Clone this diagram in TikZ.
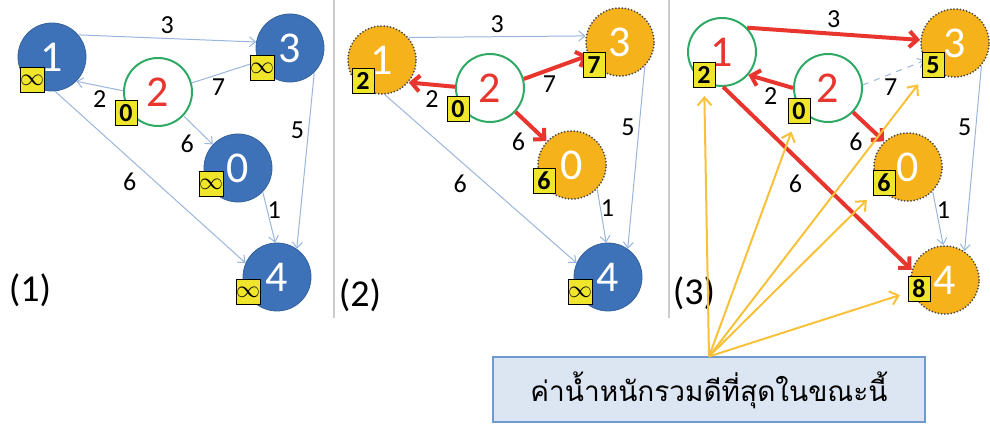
\documentclass[tikz,border=0pt]{standalone}
\usepackage{fontspec}
\setmainfont{Carlito}
\newfontfamily\thaifont[Script=Thai]{Loma}
\usetikzlibrary{arrows.meta, positioning}

\definecolor{nodeblue}{HTML}{3D72B8}
\definecolor{nodegold}{HTML}{F6B21A}
\definecolor{ringgreen}{HTML}{2EAA64}
\definecolor{hotred}{HTML}{E8362E}
\definecolor{edgeblue}{HTML}{9AB6DC}
\definecolor{costyellow}{HTML}{EFE52A}
\definecolor{hintgold}{HTML}{F7C23A}
\definecolor{notefill}{HTML}{DCE6F2}
\definecolor{noteline}{HTML}{6E9AD0}

\tikzstyle{vertex} = [circle, minimum size=34pt, inner sep=0pt, font=\fontsize{22}{22}\selectfont]
\tikzstyle{blue_node} = [vertex, fill=nodeblue, draw=nodeblue!85!black, text=white]
\tikzstyle{gold_node} = [vertex, fill=nodegold, draw=black!70, line width=1pt, dash pattern=on 0pt off 1.6pt, line cap=round, text=white]
\tikzstyle{open_node} = [vertex, fill=white, draw=ringgreen, line width=1pt, text=hotred]
\tikzstyle{cost_box} = [rectangle, draw=black, line width=0.5pt, fill=costyellow, minimum width=11pt, minimum height=12.5pt, inner sep=0pt, font=\fontsize{13}{13}\selectfont\bfseries]
\tikzstyle{thin_arrow} = [draw=edgeblue, line width=0.5pt, -{Straight Barb[length=3pt, width=5pt]}]
\tikzstyle{hot_arrow} = [draw=hotred, line width=2pt, -{Straight Barb[length=4pt, width=8pt]}]
\tikzstyle{hint_arrow} = [draw=hintgold, line width=1pt, -{Straight Barb[length=4pt, width=7pt]}, shorten >=4pt]
\tikzstyle{weight_label} = [font=\fontsize{13}{13}\selectfont, text=black, inner sep=2pt]
\tikzstyle{step_label} = [font=\fontsize{19}{19}\selectfont]
\tikzstyle{sep_line} = [draw=black!20, line width=1pt]
\tikzstyle{note_box} = [rectangle, draw=noteline, fill=notefill, line width=1pt, minimum width=216pt, minimum height=32.5pt, font=\thaifont\fontsize{14}{14}\selectfont]

\begin{document}
\begin{tikzpicture}[x=0.5pt, y=-0.5pt]
\useasboundingbox (0,0) rectangle (990,426);

\draw [sep_line] (334,0) -- (334,318);
\draw [sep_line] (669,0) -- (669,318);

% (1) start: only vertex 2 is known
\node (a1) [blue_node] at (52,57) {1};
\node (a2) [open_node] at (158,92) {2};
\node (a3) [blue_node] at (290,48) {3};
\node (a0) [blue_node] at (238,168) {0};
\node (a4) [blue_node] at (277,277) {4};
\node (s1) [step_label] at (30,290) {(1)};

\draw [thin_arrow] (a1.40) -- node[weight_label, above] {3} (a3.170);
\draw [thin_arrow] (a2.178) -- node[weight_label, below] {2} (a1.-45);
\draw [thin_arrow] (a2.15) -- node[weight_label, pos=0.4, below] {7} (a3.203);
\draw [thin_arrow] (a2.-43) -- node[weight_label, below left] {6} (a0.137);
\draw [thin_arrow] (a3.-45) -- node[weight_label, pos=0.33, left] {5} (a4.55);
\draw [thin_arrow] (a1.-85) -- node[weight_label, pos=0.45, below left] {6} (a4.156);
\draw [thin_arrow] (a0.-44) -- node[weight_label, pos=0.35, right=-2pt] {1} (a4.93);

\node (a1c) [cost_box] at ([shift={(-20,23)}]a1) {$\infty$};
\node (a2c) [cost_box] at ([shift={(-32,21)}]a2) {0};
\node (a3c) [cost_box] at ([shift={(-28,20)}]a3) {$\infty$};
\node (a0c) [cost_box] at ([shift={(-27,16)}]a0) {$\infty$};
\node (a4c) [cost_box] at ([shift={(-29,15)}]a4) {$\infty$};

% (2) relax the edges out of 2
\node (b1) [gold_node] at (382,60) {1};
\node (b2) [open_node] at (490,88) {2};
\node (b3) [gold_node] at (620,42) {3};
\node (b0) [gold_node] at (572,165) {0};
\node (b4) [blue_node] at (608,277) {4};
\node (s2) [step_label] at (360,295) {(2)};

\draw [thin_arrow] (b1.40) -- node[weight_label, above] {3} (b3.170);
\draw [hot_arrow] (b2.178) -- node[weight_label, below] {2} (b1.-40);
\draw [hot_arrow] (b2.15) -- node[weight_label, pos=0.4, below] {7} (b3.203);
\draw [hot_arrow] (b2.-43) -- node[weight_label, below left] {6} (b0.137);
\draw [thin_arrow] (b3.-45) -- node[weight_label, pos=0.33, left] {5} (b4.55);
\draw [thin_arrow] (b1.-85) -- node[weight_label, pos=0.45, below left] {6} (b4.156);
\draw [thin_arrow] (b0.-44) -- node[weight_label, pos=0.35, right=-2pt] {1} (b4.93);

\node (b1c) [cost_box] at ([shift={(-19,21)}]b1) {2};
\node (b2c) [cost_box] at ([shift={(-32,21)}]b2) {0};
\node (b3c) [cost_box] at ([shift={(-26,23)}]b3) {7};
\node (b0c) [cost_box] at ([shift={(-28,16)}]b0) {6};
\node (b4c) [cost_box] at ([shift={(-28,15)}]b4) {$\infty$};

% (3) then the edges out of 1
\node (c1) [open_node] at (722,52) {1};
\node (c2) [open_node] at (828,88) {2};
\node (c3) [gold_node] at (955,43) {3};
\node (c0) [gold_node] at (908,167) {0};
\node (c4) [gold_node] at (945,280) {4};
\node (s3) [step_label] at (694,293) {(3)};

\draw [hot_arrow] (c1.44) -- node[weight_label, above] {3} (c3.175);
\draw [hot_arrow] (c2.180) -- node[weight_label, below] {2} (c1.-41);
\draw [thin_arrow, dashed] (c2.5) -- node[weight_label, pos=0.45, below] {7} (c3.210);
\draw [hot_arrow] (c2.-44) -- node[weight_label, below left] {6} (c0.133);
\draw [thin_arrow] (c3.-41) -- node[weight_label, pos=0.33, left] {5} (c4.56);
\draw [hot_arrow] (c1.-88) -- node[weight_label, pos=0.45, below left] {6} (c4.163);
\draw [thin_arrow] (c0.-45) -- node[weight_label, pos=0.35, right=-2pt] {1} (c4.93);

\node (c1c) [cost_box] at ([shift={(-18,23)}]c1) {2};
\node (c2c) [cost_box] at ([shift={(-29,23)}]c2) {0};
\node (c3c) [cost_box] at ([shift={(-22,22)}]c3) {5};
\node (c0c) [cost_box] at ([shift={(-24,16)}]c0) {6};
\node (c4c) [cost_box] at ([shift={(-26,9)}]c4) {8};

\node (note) [note_box] at (709,390) {ค่าน้ำหนักรวมดีที่สุดในขณะนี้};
\draw [hint_arrow] (note.north) -- (c1c);
\draw [hint_arrow] (note.north) -- (c2c);
\draw [hint_arrow] (note.north) -- (c3c);
\draw [hint_arrow] (note.north) -- (c0c);
\draw [hint_arrow] (note.north) -- (c4c);
\end{tikzpicture}
\end{document}
